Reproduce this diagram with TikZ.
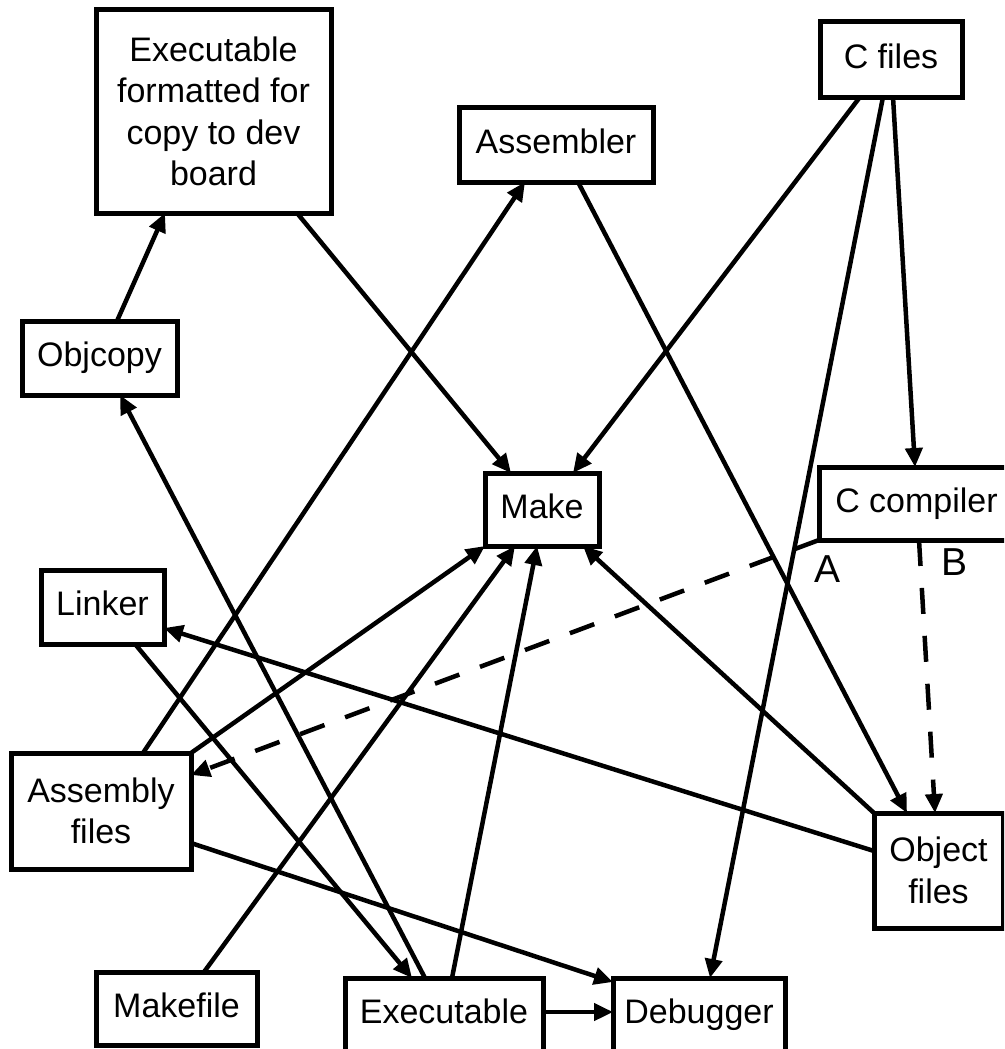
\documentclass[tikz,border=0pt]{standalone}
\usepackage{fontspec}
\setmainfont{Liberation Sans}
\usetikzlibrary{arrows.meta}
\begin{document}
\begin{tikzpicture}[x=1pt,y=-1pt,
  box/.style={draw, line width=5pt, rectangle, inner sep=0pt, outer sep=0pt, align=center, font=\fontsize{34}{41.5}\selectfont},
  oneline/.style={text height=24pt, text depth=7pt},
  conn/.style={line width=4.5pt, -{Triangle[length=19pt,width=17pt]}},
  dashconn/.style={conn, dash pattern=on 26pt off 22pt},
  lbl/.style={font=\fontsize{39}{39}\selectfont, inner sep=0pt}]
\useasboundingbox (0,0) rectangle (1004,1049);
\fill[white] (0,0) rectangle (1004,1049);
\clip (0,0) rectangle (1004,1049);

\node[box, minimum width=235pt, minimum height=203pt] (fmt) at (213.5,111.5) {Executable\\formatted for\\copy to dev\\board};
\node[box, oneline, minimum width=155pt, minimum height=74pt] (objcopy) at (99.5,358) {Objcopy};
\node[box, oneline, minimum width=194pt, minimum height=75pt] (asmr) at (556,144.5) {Assembler};
\node[box, oneline, minimum width=142pt, minimum height=75pt] (cfiles) at (891,59.5) {C files};
\node[box, oneline, minimum width=114pt, minimum height=73pt] (make) at (542,509.5) {Make};
\node[box, oneline, minimum width=195pt, minimum height=73pt] (ccomp) at (916.5,503.5) {C compiler};
\node[box, oneline, minimum width=123pt, minimum height=74pt] (linker) at (102.5,607) {Linker};
\node[box, minimum width=180pt, minimum height=116pt] (asmf) at (101,811) {Assembly\\files};
\node[box, minimum width=129pt, minimum height=115pt] (objf) at (938.5,870.5) {Object\\files};
\node[box, oneline, minimum width=161pt, minimum height=73pt] (makefile) at (176.5,1008.5) {Makefile};
\node[box, oneline, minimum width=198pt, minimum height=74pt] (exe) at (444,1015) {Executable};
\node[box, oneline, minimum width=172pt, minimum height=74pt] (dbg) at (699,1015) {Debugger};

\draw[conn] ([xshift=95pt]objcopy.north west) -- ([xshift=69pt]fmt.south west);
\draw[conn] ([xshift=201pt]fmt.south west) -- ([xshift=26pt]make.north west);
\draw[conn] ([xshift=40pt]cfiles.south west) -- ([xshift=88pt]make.north west);
\draw[conn] ([xshift=63pt]cfiles.south west) -- ([xshift=97pt]dbg.north west);
\draw[conn] ([xshift=73pt]cfiles.south west) -- ([xshift=96pt]ccomp.north west);
\draw[conn] ([xshift=132pt]asmf.north west) -- ([xshift=66pt]asmr.south west);
\draw[conn] ([xshift=119pt]asmr.south west) -- ([xshift=33pt]objf.north west);
\draw[dashconn] (ccomp.south west) -- ([yshift=-22pt]asmf.north east);
\draw[dashconn] ([xshift=100pt]ccomp.south west) -- ([xshift=61pt]objf.north west);
\draw[conn] (asmf.north east) -- (make.south west);
\draw[conn] ([xshift=108pt]makefile.north west) -- ([xshift=30pt]make.south west);
\draw[conn] ([xshift=107pt]exe.north west) -- ([xshift=52pt]make.south west);
\draw[conn] (objf.north west) -- ([xshift=98pt]make.south west);
\draw[conn] ([yshift=-38pt]objf.north west) -- ([yshift=-58pt]linker.north east);
\draw[conn] ([xshift=94pt]linker.south west) -- ([xshift=67pt]exe.north west);
\draw[conn] ([xshift=80pt]exe.north west) -- ([xshift=98pt]objcopy.south west);
\draw[conn] ([yshift=-90pt]asmf.north east) -- ([yshift=-4pt]dbg.north west);
\draw[conn] ([yshift=3pt]exe.east) -- ([yshift=3pt]dbg.west);

\node[lbl] (la) at (827,569) {A};
\node[lbl] (lb) at (954,562) {B};
\end{tikzpicture}
\end{document}
